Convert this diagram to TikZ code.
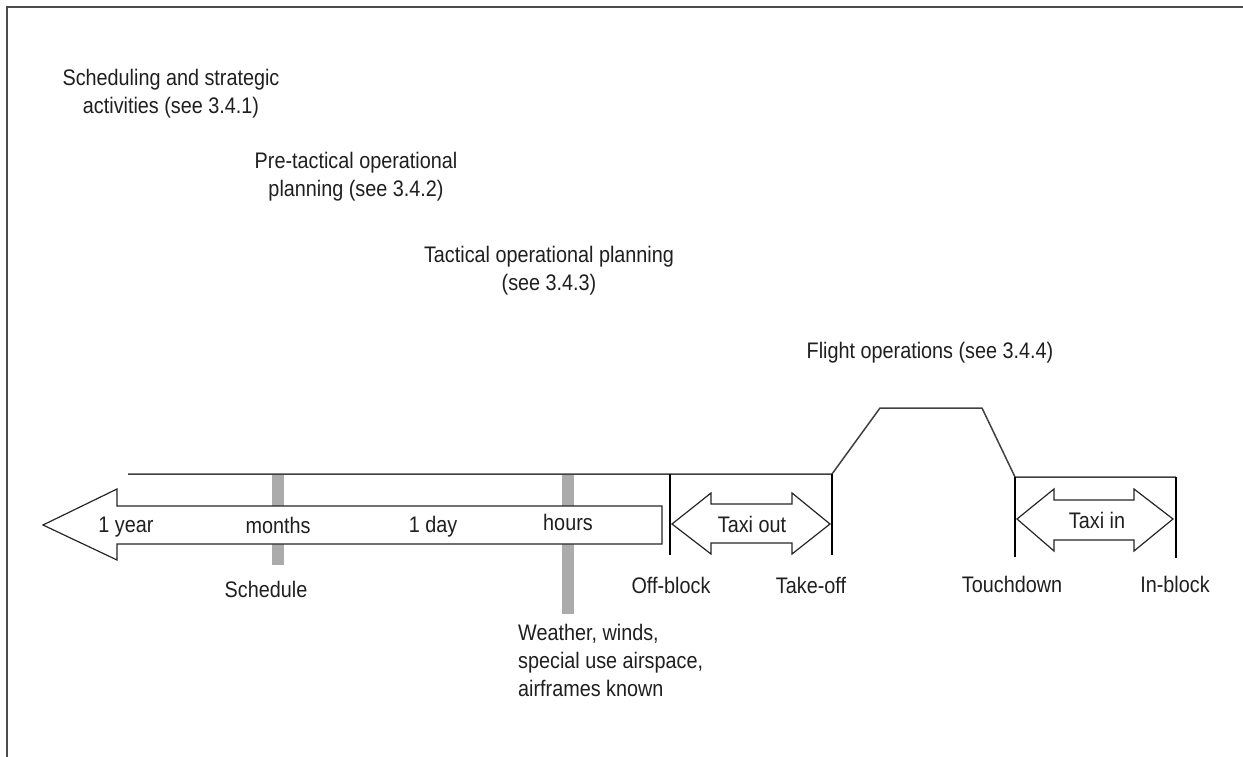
\documentclass[tikz,border=0pt]{standalone}
\usepackage{fontspec}
\setmainfont{Liberation Sans}[FakeStretch=0.88]
\begin{document}
\begin{tikzpicture}[x=1pt,y=-1pt,
  lbl/.style={inner sep=0pt, font=\fontsize{22.5}{28}\selectfont, text=black!88},
  blk/.style={align=center},
  bar/.style={fill=black!33, draw=none},
  tick/.style={draw=black, line width=2pt},
  arr/.style={draw=black!85, line width=1.2pt, fill=white, line join=miter},
  path/.style={draw=black!75, line width=1.5pt}
]
\useasboundingbox (0,0) rectangle (1243,757);
% frame
\draw[draw=black!70, line width=1.2pt] (7,757) -- (7,7) -- (1243,7);

% named positions
\coordinate (start) at (128,474);
\coordinate (offtop) at (670,474);
\coordinate (offbot) at (670,555);
\coordinate (totop) at (832,474);
\coordinate (tobot) at (832,555);
\coordinate (cruiseA) at (880,408);
\coordinate (cruiseB) at (982,408);
\coordinate (tdtop) at (1015,477);
\coordinate (tdbot) at (1015,557);
\coordinate (ibtop) at (1176,477);
\coordinate (ibbot) at (1176,558);

% gray bars
\fill[bar] (272,474) rectangle (284,565);
\fill[bar] (562,474) rectangle (574,614);

% flight profile
\draw[path] (start) -- (totop) -- (cruiseA) -- (cruiseB) -- (tdtop) -- (ibtop);

% verticals
\draw[tick] (offtop) -- (offbot);
\draw[tick] (totop) -- (tobot);
\draw[tick] (tdtop) -- (tdbot);
\draw[tick] (ibtop) -- (ibbot);

% big time arrow
\draw[arr] (662,506) -- (117,506) -- (117,489) -- (43,525) -- (117,560) -- (117,544) -- (662,544) -- cycle;

% taxi out arrow
\draw[arr] (672,524) -- (711,493) -- (711,504) -- (792,504) -- (792,493) -- (830,524) -- (792,554) -- (792,543) -- (711,543) -- (711,554) -- cycle;

% taxi in arrow
\draw[arr] (1017,519) -- (1054,489) -- (1054,500) -- (1134,500) -- (1134,489) -- (1173,519) -- (1134,551) -- (1134,540) -- (1054,540) -- (1054,551) -- cycle;

% labels in arrows
\node[lbl, anchor=base] (year) at (126,532) {1 year};
\node[lbl, anchor=base] (months) at (278,533) {months};
\node[lbl, anchor=base] (day) at (433,532) {1 day};
\node[lbl, anchor=base] (hours) at (568,530) {hours};
\node[lbl, anchor=base] (taxiout) at (752,532) {Taxi out};
\node[lbl, anchor=base] (taxiin) at (1097,528) {Taxi in};

% labels below
\node[lbl, anchor=base] (schedule) at (266,597) {Schedule};
\node[lbl, anchor=base] (offblock) at (671,593) {Off-block};
\node[lbl, anchor=base] (takeoff) at (811,593) {Take-off};
\node[lbl, anchor=base] (touchdown) at (1012,592) {Touchdown};
\node[lbl, anchor=base] (inblock) at (1175,592) {In-block};
\node[lbl, align=left, anchor=north west] (weather) at (518,624) {Weather, winds,\\special use airspace,\\airframes known};

% phase labels
\node[lbl, blk] (strat) at (171,94) {Scheduling and strategic\\activities (see 3.4.1)};
\node[lbl, blk] (pretac) at (356,177) {Pre-tactical operational\\planning (see 3.4.2)};
\node[lbl, blk] (tac) at (549,271) {Tactical operational planning\\(see 3.4.3)};
\node[lbl, anchor=base] (flight) at (930,358) {Flight operations (see 3.4.4)};
\end{tikzpicture}
\end{document}
